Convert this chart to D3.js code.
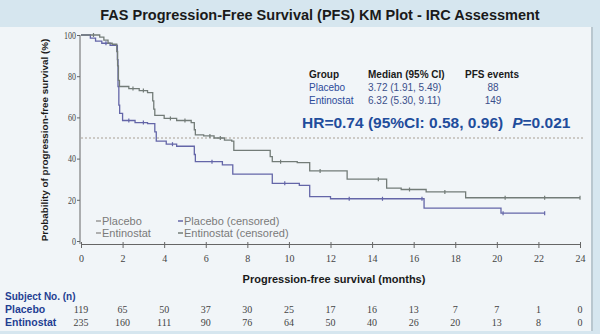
<!DOCTYPE html>
<html>
<head>
<meta charset="utf-8">
<script src="https://cdn.jsdelivr.net/npm/d3@7"></script>
<style>
  body { margin: 0; background: #d6e6ef; }
  svg { display: block; }
</style>
</head>
<body>
<div class="chart"></div>
<script>
// KM step points: [month, survival %]
var placeboSteps = [
  [0, 100], [0.45, 98.5], [0.7, 97], [1.0, 96], [1.4, 95], [1.75, 88], [1.78, 75],
  [1.82, 66], [1.86, 62], [2.0, 58.5], [2.6, 57.5], [3.2, 57], [3.55, 53], [3.62, 48.5],
  [4.1, 47], [4.6, 46], [5.45, 42], [5.5, 38.5], [6.8, 37], [7.3, 32.5], [9.2, 28],
  [10.5, 27], [11.0, 21.5], [12.0, 20.5], [16.5, 16], [20.2, 13.5], [22.3, 13.5]
]
var entinostatSteps = [
  [0, 100], [0.9, 99], [1.1, 97.5], [1.3, 96], [1.5, 95.5], [1.72, 92], [1.76, 85],
  [1.8, 78], [1.85, 75], [2.3, 74], [2.8, 73], [3.2, 72], [3.45, 68], [3.5, 64],
  [3.55, 61], [4.0, 59.5], [4.6, 58.5], [5.3, 57.5], [5.45, 54], [5.5, 51.5], [5.9, 51],
  [6.4, 50], [6.9, 49], [7.25, 48.5], [7.35, 44], [9.1, 41], [9.2, 38.5], [10.4, 38],
  [11.0, 34], [12.8, 30], [14.7, 25.7], [15.4, 25], [16.6, 23.8], [18.5, 21], [24, 21]
]
var placeboCensored = [1.2, 2.3, 3.0, 4.4, 6.3, 9.8, 12.9, 14.5, 16.4, 20.3, 22.3]
var entinostatCensored = [0.6, 2.5, 3.0, 4.3, 5.0, 6.2, 6.7, 9.6, 11.5, 14.3, 15.8, 17.5, 20.4, 22.3, 24]

var xTicks = [0, 2, 4, 6, 8, 10, 12, 14, 16, 18, 20, 22, 24]
var yTicks = [0, 20, 40, 60, 80, 100]
var placeboAtRisk = [119, 65, 50, 37, 30, 25, 17, 16, 13, 7, 7, 1, 0]
var entinostatAtRisk = [235, 160, 111, 90, 76, 64, 50, 40, 26, 20, 13, 8, 0]

var groups = ['Placebo', 'Entinostat']
var medians = ['3.72 (1.91, 5.49)', '6.32 (5.30, 9.11)']
var pfsEvents = [88, 149]

var placeboColor = '#6466a8'
var entinostatColor = '#737c78'
var blue = '#1f3f92'

var W = 600, H = 334
var svg = d3.select('.chart').append('svg').attr('width', W).attr('height', H)

// background panel
svg.append('rect').attr('x', 0).attr('y', 27).attr('width', 591).attr('height', 304).attr('fill', '#f1f5f8')
svg.append('rect').attr('x', 591).attr('y', 27).attr('width', 2).attr('height', 304).attr('fill', '#b9c7cf')

svg.append('text')
  .attr('x', 320).attr('y', 20)
  .attr('text-anchor', 'middle')
  .style('font', 'bold 14.5px "Liberation Sans", Arial, sans-serif')
  .attr('fill', '#1a1a1a')
  .text('FAS Progression-Free Survival (PFS) KM Plot - IRC Assessment')

var x = d3.scaleLinear().domain([0, 24]).range([81, 580])
var y = d3.scaleLinear().domain([0, 100]).range([241, 35])

var tickFont = '10px "Liberation Serif", "Times New Roman", serif'

// y axis
var yAxis = svg.append('g')
  .attr('transform', 'translate(80,0)')
  .call(d3.axisLeft(y).tickValues(yTicks).tickSize(3).tickSizeOuter(0))
yAxis.select('.domain').attr('stroke', '#666').attr('d', 'M0,' + y(100) + 'V244')
yAxis.selectAll('.tick line').attr('stroke', '#666')
yAxis.selectAll('.tick text').style('font', tickFont).attr('fill', '#444')
  .attr('transform', 'scale(0.8,1)').attr('x', -5)

// x axis
var xAxis = svg.append('g')
  .attr('transform', 'translate(0,244)')
  .call(d3.axisBottom(x).tickValues(xTicks).tickSize(4).tickSizeOuter(0))
xAxis.select('.domain').attr('stroke', '#666')
xAxis.selectAll('.tick line').attr('stroke', '#666').attr('y1', -2)
xAxis.selectAll('.tick text').style('font', tickFont).attr('fill', '#444').attr('dy', '1.1em')

svg.append('text')
  .attr('transform', 'translate(48,140) rotate(-90)')
  .attr('text-anchor', 'middle')
  .style('font', 'bold 9.9px "Liberation Sans", Arial, sans-serif')
  .attr('fill', '#1a1a1a')
  .text('Probability of progression-free survival (%)')

svg.append('text')
  .attr('x', 334).attr('y', 283)
  .attr('text-anchor', 'middle')
  .style('font', 'bold 11px "Liberation Sans", Arial, sans-serif')
  .attr('fill', '#1a1a1a')
  .text('Progression-free survival (months)')

// median reference line
svg.append('line')
  .attr('x1', x(0)).attr('x2', 583)
  .attr('y1', y(50)).attr('y2', y(50))
  .attr('stroke', '#a89f94').attr('stroke-width', 1)
  .attr('stroke-dasharray', '2,2')

var line = d3.line()
  .curve(d3.curveStepAfter)
  .x(function(d) { return x(d[0]) })
  .y(function(d) { return y(d[1]) })

function survAt(steps, t) {
  var s = steps[0][1]
  steps.forEach(function(d) { if (d[0] <= t) s = d[1] })
  return s
}

function drawCurve(steps, censored, color) {
  svg.append('path')
    .datum(steps)
    .attr('d', line)
    .attr('fill', 'none')
    .attr('stroke', color)
    .attr('stroke-width', 1.3)
  svg.append('g').selectAll('line')
    .data(censored)
    .enter()
    .append('line')
    .attr('x1', function(d) { return x(d) })
    .attr('x2', function(d) { return x(d) })
    .attr('y1', function(d) { return y(survAt(steps, d)) - 2 })
    .attr('y2', function(d) { return y(survAt(steps, d)) + 2 })
    .attr('stroke', color)
    .attr('stroke-width', 1.2)
}
drawCurve(placeboSteps, placeboCensored, placeboColor)
drawCurve(entinostatSteps, entinostatCensored, entinostatColor)

// legend inside plot
var legendFont = '11px "Liberation Sans", Arial, sans-serif'
var legendItems = [
  {label: 'Placebo', color: '#999', lx: 96, ly: 221},
  {label: 'Entinostat', color: '#999', lx: 96, ly: 233},
  {label: 'Placebo (censored)', color: placeboColor, lx: 178, ly: 221},
  {label: 'Entinostat (censored)', color: entinostatColor, lx: 178, ly: 233}
]
legendItems.forEach(function(d) {
  svg.append('line')
    .attr('x1', d.lx).attr('x2', d.lx + 5)
    .attr('y1', d.ly).attr('y2', d.ly)
    .attr('stroke', d.color).attr('stroke-width', 1.5)
  svg.append('text')
    .attr('x', d.lx + 6).attr('y', d.ly + 4)
    .style('font', legendFont)
    .attr('fill', '#7a7a7a')
    .text(d.label)
})

// summary table
var tblFont = '10px "Liberation Sans", Arial, sans-serif'
var tblBold = 'bold 10px "Liberation Sans", Arial, sans-serif'
svg.append('text').attr('x', 309).attr('y', 78).style('font', tblBold).attr('fill', '#1a1a1a').text('Group')
svg.append('text').attr('x', 368).attr('y', 78).style('font', tblBold).attr('fill', '#1a1a1a').text('Median (95% CI)')
svg.append('text').attr('x', 492).attr('y', 78).attr('text-anchor', 'middle').style('font', tblBold).attr('fill', '#1a1a1a').text('PFS events')
groups.forEach(function(g, i) {
  var ty = 91 + i * 12.5
  svg.append('text').attr('x', 309).attr('y', ty).style('font', tblFont).attr('fill', '#2c4a9a').text(g)
  svg.append('text').attr('x', 368).attr('y', ty).style('font', tblFont).attr('fill', '#3a4f8a').text(medians[i])
  svg.append('text').attr('x', 493).attr('y', ty).attr('text-anchor', 'middle').style('font', tblFont).attr('fill', '#3a4f8a').text(pfsEvents[i])
})

var hr = svg.append('text')
  .attr('x', 302).attr('y', 128)
  .style('font', 'bold 15.5px "Liberation Sans", Arial, sans-serif')
  .attr('fill', '#1f4d9c')
hr.append('tspan').text('HR=0.74 (95%CI: 0.58, 0.96)')
hr.append('tspan').attr('dx', 9).style('font-style', 'italic').text('P')
hr.append('tspan').text('=0.021')

// number at risk
svg.append('text').attr('x', 5).attr('y', 300)
  .style('font', 'bold 10px "Liberation Sans", Arial, sans-serif').attr('fill', blue)
  .text('Subject No. (n)')
var riskRows = [
  {name: 'Placebo', values: placeboAtRisk, ry: 313},
  {name: 'Entinostat', values: entinostatAtRisk, ry: 326}
]
riskRows.forEach(function(r) {
  svg.append('text').attr('x', 5).attr('y', r.ry)
    .style('font', 'bold 10.5px "Liberation Sans", Arial, sans-serif').attr('fill', blue)
    .text(r.name)
  svg.append('g').selectAll('text')
    .data(r.values)
    .enter()
    .append('text')
    .attr('x', function(d, i) { return x(xTicks[i]) })
    .attr('y', r.ry)
    .attr('text-anchor', 'middle')
    .style('font', tickFont)
    .attr('fill', '#444')
    .text(function(d) { return d })
})
</script>
</body>
</html>
